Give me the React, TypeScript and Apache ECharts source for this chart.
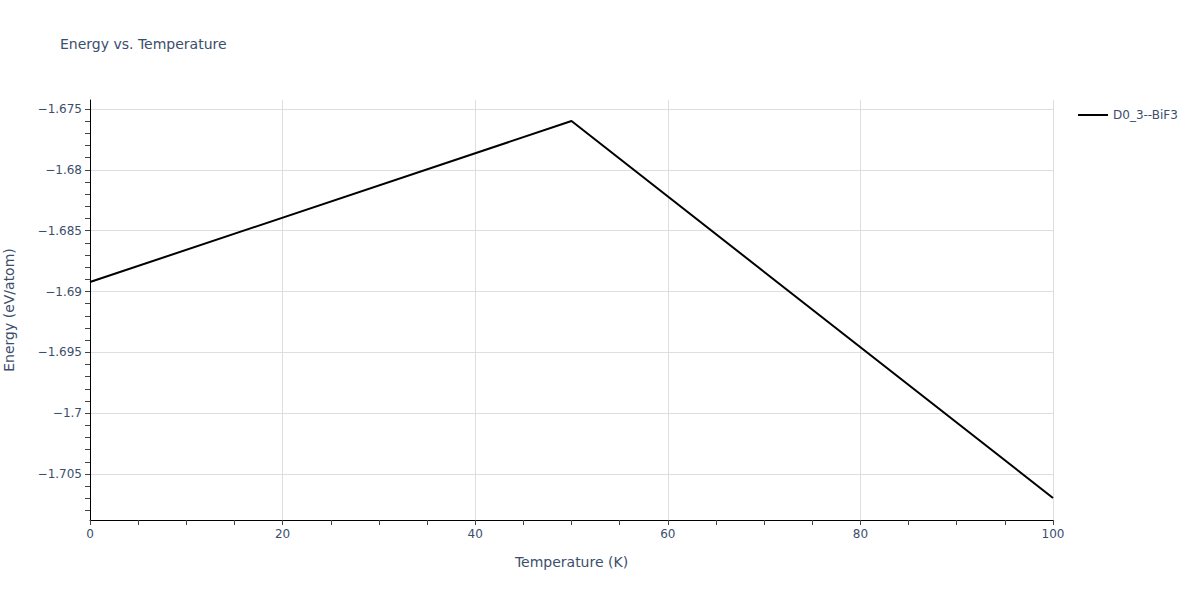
import React, { useEffect, useRef } from "react";
import * as echarts from "echarts";

const temperatures = [0, 50, 100];
const energies = [-1.68922, -1.67599, -1.70697];
const seriesName = "D0_3--BiF3";
const yMajorTicks = [-1.705, -1.7, -1.695, -1.69, -1.685, -1.68, -1.675];
const yMinorTicks = [
  -1.708, -1.707, -1.706, -1.705, -1.704, -1.703, -1.702, -1.701, -1.7,
  -1.699, -1.698, -1.697, -1.696, -1.695, -1.694, -1.693, -1.692, -1.691, -1.69,
  -1.689, -1.688, -1.687, -1.686, -1.685, -1.684, -1.683, -1.682, -1.681, -1.68,
  -1.679, -1.678, -1.677, -1.676, -1.675,
];
const yMin = -1.70878;
const yMax = -1.67426;

const TXT = "#3b4e6c";
const GRID = "#dedede";
const FONT = "'DejaVu Sans', Verdana, sans-serif";

export default function App() {
  const ref = useRef<HTMLDivElement>(null);
  useEffect(() => {
    if (!ref.current) return;
    const chart = echarts.init(ref.current, undefined, { renderer: "svg" });
    const fmt = (v: number) => {
      const r = +Number(v).toFixed(3);
      return (r < 0 ? "\u2212" : "") + String(Math.abs(r));
    };
    chart.setOption({
      animation: false,
      backgroundColor: "#ffffff",
      textStyle: { fontFamily: FONT },
      title: {
        text: "Energy vs. Temperature",
        left: 55,
        top: 32,
        textStyle: { fontFamily: FONT, fontSize: 14, fontWeight: "normal", color: TXT },
      },
      legend: {
        left: 1073,
        top: 104,
        itemWidth: 30,
        itemHeight: 14,
        data: [{ name: seriesName, icon: "path://M0,6 L30,6 L30,8 L0,8 Z" }],
        textStyle: { fontFamily: FONT, fontSize: 12, color: TXT },
      },
      grid: {
        left: 90,
        right: 147,
        top: 100,
        bottom: 80,
        containLabel: false,
        outerBoundsMode: "none",
      },
      xAxis: {
        type: "value",
        min: 0,
        max: 100,
        interval: 20,
        name: "Temperature (K)",
        nameLocation: "middle",
        nameGap: 35,
        nameTextStyle: { fontFamily: FONT, fontSize: 14, color: TXT },
        axisLine: { show: true, lineStyle: { color: "#000", width: 1 } },
        axisTick: { show: true, length: 5, lineStyle: { color: "#444" } },
        minorTick: { show: true, splitNumber: 4, length: 5, lineStyle: { color: "#444" } },
        axisLabel: { fontFamily: FONT, fontSize: 12, color: TXT, margin: 8 },
        splitLine: { show: true, lineStyle: { color: GRID, width: 1 } },
      },
      yAxis: [
        {
          type: "value",
          min: yMin,
          max: yMax,
          name: "Energy (eV/atom)",
          nameLocation: "middle",
          nameGap: 74,
          nameTextStyle: { fontFamily: FONT, fontSize: 14, color: TXT },
          axisLine: { show: true, lineStyle: { color: "#000", width: 1 } },
          axisTick: { show: true, length: 5, customValues: yMinorTicks, lineStyle: { color: "#444" } },
          axisLabel: {
            customValues: yMajorTicks,
            fontFamily: FONT,
            fontSize: 12,
            color: TXT,
            margin: 8,
            formatter: fmt,
          },
          splitLine: { show: false },
        },
        {
          type: "value",
          min: yMin,
          max: yMax,
          position: "left",
          axisLine: { show: false },
          axisTick: { show: false, customValues: yMajorTicks },
          axisLabel: { show: false, customValues: yMajorTicks },
          splitLine: { show: true, lineStyle: { color: GRID, width: 1 } },
        },
      ],
      series: [
        {
          name: seriesName,
          type: "line",
          yAxisIndex: 0,
          data: temperatures.map((t, i) => [t, energies[i]]),
          symbol: "none",
          lineStyle: { color: "#000", width: 2 },
          itemStyle: { color: "#000" },
          z: 5,
        },
      ],
    });
    return () => chart.dispose();
  }, []);
  return (
    <div
      ref={ref}
      style={{ position: "fixed", left: 0, top: 0, width: 1200, height: 600 }}
    />
  );
}
